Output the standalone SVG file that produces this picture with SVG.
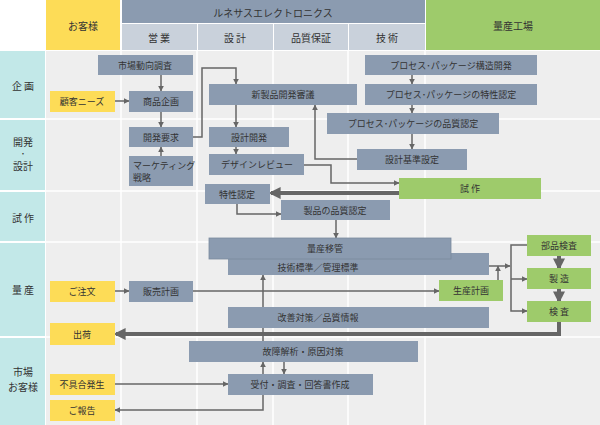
<svg xmlns="http://www.w3.org/2000/svg" width="600" height="425" viewBox="0 0 600 425">
<style>
text{font-family:"Noto Sans CJK JP","Noto Sans",sans-serif;font-size:9px;fill:#333;text-anchor:middle;dominant-baseline:central}
.g rect{fill:#8b9bb0}
.y rect{fill:#fddc57}
.n rect{fill:#9ecb6b}
.h{font-size:10px}
.c line,.c polyline{stroke:#666;stroke-width:1.5;fill:none}
.c .t{stroke-width:4}
</style>
<defs>
<marker id="a" viewBox="0 0 10 10" refX="9" refY="5" markerWidth="6" markerHeight="6" markerUnits="userSpaceOnUse" orient="auto"><path d="M0,0L10,5L0,10z" fill="#666"/></marker>
<marker id="b" viewBox="0 0 10 10" refX="8" refY="5" markerWidth="3" markerHeight="3" orient="auto"><path d="M0,0L10,5L0,10z" fill="#666"/></marker>
</defs>
<rect width="600" height="425" fill="#fff"/>
<rect x="46" y="51" width="554" height="374" fill="#eeeeee"/>
<g stroke="#fff" stroke-width="1.5">
<line x1="121" y1="51" x2="121" y2="425"/><line x1="197" y1="51" x2="197" y2="425"/><line x1="273" y1="51" x2="273" y2="425"/><line x1="348" y1="51" x2="348" y2="425"/><line x1="425" y1="51" x2="425" y2="425"/>
<line x1="0" y1="119" x2="600" y2="119"/><line x1="0" y1="191" x2="600" y2="191"/><line x1="0" y1="242" x2="600" y2="242"/><line x1="0" y1="337" x2="600" y2="337"/>
</g>
<g id="rows" fill="#c2e8e8">
<rect x="0" y="51" width="45" height="67"/><rect x="0" y="120" width="45" height="70"/><rect x="0" y="192" width="45" height="49"/><rect x="0" y="243" width="45" height="93"/><rect x="0" y="338" width="45" height="87"/>
</g>
<text x="23" y="85" class="h">企 画</text>
<text x="23" y="141" class="h">開発</text><text x="23" y="153" class="h" style="font-size:7px">・</text><text x="23" y="165" class="h">設計</text>
<text x="23" y="217" class="h">試 作</text>
<text x="23" y="289" class="h">量 産</text>
<text x="23" y="371" class="h">市場</text><text x="23" y="386" class="h">お客様</text>
<g id="header">
<rect x="46" y="0" width="74" height="50" fill="#fddc57"/><text x="83" y="25" class="h">お客様</text>
<rect x="122" y="0" width="303" height="23" fill="#8b9bb0"/><text x="273" y="12" class="h">ルネサスエレクトロニクス</text>
<rect x="122" y="24" width="75" height="26" fill="#c9d1db"/><text x="159" y="37" class="h">営 業</text>
<rect x="198" y="24" width="75" height="26" fill="#c9d1db"/><text x="235" y="37" class="h">設 計</text>
<rect x="274" y="24" width="74" height="26" fill="#c9d1db"/><text x="311" y="37" class="h">品質保証</text>
<rect x="349" y="24" width="76" height="26" fill="#c9d1db"/><text x="387" y="37" class="h">技 術</text>
<rect x="426" y="0" width="174" height="50" fill="#9ecb6b"/><text x="513" y="25" class="h">量産工場</text>
</g>
<g class="c">
<line x1="161" y1="75" x2="161" y2="91" marker-end="url(#a)"/>
<line x1="115" y1="101" x2="129" y2="101" marker-end="url(#a)"/>
<line x1="161" y1="112" x2="161" y2="127" marker-end="url(#a)"/>
<line x1="161" y1="156" x2="161" y2="147" marker-end="url(#a)"/>
<polyline points="193,137 202,137 202,68 236,68 236,84" marker-end="url(#a)"/>
<line x1="236" y1="105" x2="236" y2="127" marker-end="url(#a)"/>
<line x1="236" y1="147" x2="236" y2="154" marker-end="url(#a)"/>
<polyline points="304,165 331,165 331,183 399,183" marker-end="url(#a)"/>
<polyline points="357,159 315,159 315,105" marker-end="url(#a)"/>
<line x1="412" y1="75" x2="412" y2="84" marker-end="url(#a)"/>
<line x1="412" y1="105" x2="412" y2="113" marker-end="url(#a)"/>
<line x1="412" y1="134" x2="412" y2="149" marker-end="url(#a)"/>
<line class="t" x1="399" y1="193" x2="271" y2="193" marker-end="url(#b)"/>
<polyline points="237,204 237,214 281,214" marker-end="url(#a)"/>
<line x1="336" y1="220" x2="336" y2="238" marker-end="url(#a)"/>
<line x1="115" y1="291" x2="129" y2="291" marker-end="url(#a)"/>
<line x1="193" y1="291" x2="439" y2="291" marker-end="url(#a)"/>
<line x1="498" y1="280" x2="498" y2="266" marker-end="url(#a)"/>
<line x1="489" y1="266" x2="510" y2="266" marker-end="url(#a)"/>
<polyline points="527,245 511,245 511,311 527,311" marker-end="url(#a)"/>
<line x1="511" y1="279" x2="527" y2="279" marker-end="url(#a)"/>
<line class="t" x1="559" y1="256" x2="559" y2="268" marker-end="url(#b)"/>
<line class="t" x1="559" y1="289" x2="559" y2="301" marker-end="url(#b)"/>
<polyline class="t" points="559,322 559,334 116,334" marker-end="url(#b)"/>
<line x1="263" y1="341" x2="263" y2="275" marker-end="url(#a)"/>
<line x1="263" y1="374" x2="263" y2="362" marker-end="url(#a)"/>
<line x1="284" y1="362" x2="284" y2="374" marker-end="url(#a)"/>
<polyline points="263,395 263,410 115,410" marker-end="url(#a)"/>
<line x1="115" y1="384" x2="228" y2="384" marker-end="url(#a)"/>
</g>
<g id="n1" class="g"><rect x="98" y="55" width="95" height="20"/><text x="145" y="65">市場動向調査</text></g>
<g id="n2" class="y"><rect x="50" y="91" width="65" height="21"/><text x="82" y="101">顧客ニーズ</text></g>
<g id="n3" class="g"><rect x="129" y="91" width="64" height="21"/><text x="161" y="101">商品企画</text></g>
<g id="n4" class="g"><rect x="129" y="127" width="64" height="20"/><text x="161" y="137">開発要求</text></g>
<g id="n5" class="g"><rect x="129" y="156" width="64" height="30"/><text x="133" y="165" style="text-anchor:start">マーケティング</text><text x="133" y="177" style="text-anchor:start">戦略</text></g>
<g id="n6" class="g"><rect x="209" y="84" width="148" height="21"/><text x="283" y="94">新製品開発審議</text></g>
<g id="n7" class="g"><rect x="209" y="127" width="80" height="20"/><text x="249" y="137">設計開発</text></g>
<g id="n8" class="g"><rect x="209" y="154" width="95" height="21"/><text x="257" y="164">デザインレビュー</text></g>
<g id="n9" class="g"><rect x="205" y="184" width="65" height="20"/><text x="237" y="194">特性認定</text></g>
<g id="n10" class="g"><rect x="281" y="200" width="109" height="20"/><text x="335" y="210">製品の品質認定</text></g>
<g id="n11" class="g"><rect x="365" y="55" width="172" height="20"/><text x="451" y="65">プロセス･パッケージ構造開発</text></g>
<g id="n12" class="g"><rect x="365" y="84" width="172" height="21"/><text x="451" y="94">プロセス･パッケージの特性認定</text></g>
<g id="n13" class="g"><rect x="327" y="113" width="172" height="21"/><text x="413" y="123">プロセス･パッケージの品質認定</text></g>
<g id="n14" class="g"><rect x="357" y="149" width="110" height="21"/><text x="412" y="159">設計基準設定</text></g>
<g id="n15" class="n"><rect x="399" y="178" width="142" height="21"/><text x="470" y="188">試 作</text></g>
<g id="n16" class="g"><rect x="228" y="253" width="261" height="22"/><text x="318" y="267">技術標準／管理標準</text></g>
<g id="n17" class="g"><rect x="209" y="238" width="242" height="21" stroke="#7a8a9e" stroke-width="0.8"/><text x="325" y="248">量産移管</text></g>
<g id="n18" class="y"><rect x="50" y="281" width="65" height="21"/><text x="82" y="291">ご注文</text></g>
<g id="n19" class="g"><rect x="129" y="281" width="64" height="21"/><text x="161" y="291">販売計画</text></g>
<g id="n20" class="n"><rect x="439" y="280" width="64" height="21"/><text x="471" y="290">生産計画</text></g>
<g id="n21" class="g"><rect x="228" y="307" width="261" height="21"/><text x="318" y="317">改善対策／品質情報</text></g>
<g id="n22" class="y"><rect x="50" y="323" width="65" height="22"/><text x="82" y="334">出荷</text></g>
<g id="n23" class="n"><rect x="527" y="235" width="64" height="21"/><text x="559" y="245">部品検査</text></g>
<g id="n24" class="n"><rect x="527" y="268" width="64" height="21"/><text x="559" y="278">製 造</text></g>
<g id="n25" class="n"><rect x="527" y="301" width="64" height="21"/><text x="559" y="311">検 査</text></g>
<g id="n26" class="g"><rect x="189" y="341" width="229" height="21"/><text x="303" y="351">故障解析・原因対策</text></g>
<g id="n27" class="y"><rect x="50" y="374" width="65" height="21"/><text x="82" y="384">不具合発生</text></g>
<g id="n28" class="g"><rect x="228" y="374" width="145" height="21"/><text x="300" y="384">受付・調査・回答書作成</text></g>
<g id="n29" class="y"><rect x="50" y="400" width="65" height="21"/><text x="82" y="410">ご報告</text></g>
</svg>
